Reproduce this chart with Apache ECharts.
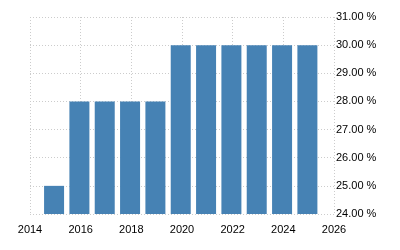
<!DOCTYPE html>
<html><head><meta charset="utf-8">
<script src="https://cdn.jsdelivr.net/npm/echarts@6/dist/echarts.min.js"></script>
<style>html,body{margin:0;padding:0;background:#fff}#c{width:400px;height:250px}</style>
</head><body><div id="c"></div>
<script>
const years = [2015, 2016, 2017, 2018, 2019, 2020, 2021, 2022, 2023, 2024, 2025];
const rates = [25, 28, 28, 28, 28, 30, 30, 30, 30, 30, 30];
const chart = echarts.init(document.getElementById('c'), null, {renderer: 'canvas'});
chart.setOption({
  animation: false,
  grid: {left: 30, right: 66, top: 17, bottom: 36},
  xAxis: {
    type: 'value', min: 2014, max: 2026, interval: 2,
    axisLine: {show: false}, axisTick: {show: false},
    axisLabel: {formatter: v => String(v), color: '#000', fontSize: 11, fontFamily: 'Liberation Sans, Arial', margin: 10},
    splitLine: {show: true, lineStyle: {color: '#ccc', type: [1, 2], width: 1}}
  },
  yAxis: {
    type: 'value', position: 'right', min: 24, max: 31, interval: 1,
    axisLine: {show: false}, axisTick: {show: false},
    axisLabel: {formatter: v => v.toFixed(2) + ' %', color: '#000', fontSize: 11, fontFamily: 'Liberation Sans, Arial', margin: 2},
    splitLine: {show: true, lineStyle: {color: '#ccc', type: [1, 2], width: 1}}
  },
  series: [{
    type: 'bar',
    data: years.map((y, i) => [y - 0.05, rates[i]]),
    barWidth: 20,
    itemStyle: {color: '#4682B4'}
  }]
});
</script></body></html>
